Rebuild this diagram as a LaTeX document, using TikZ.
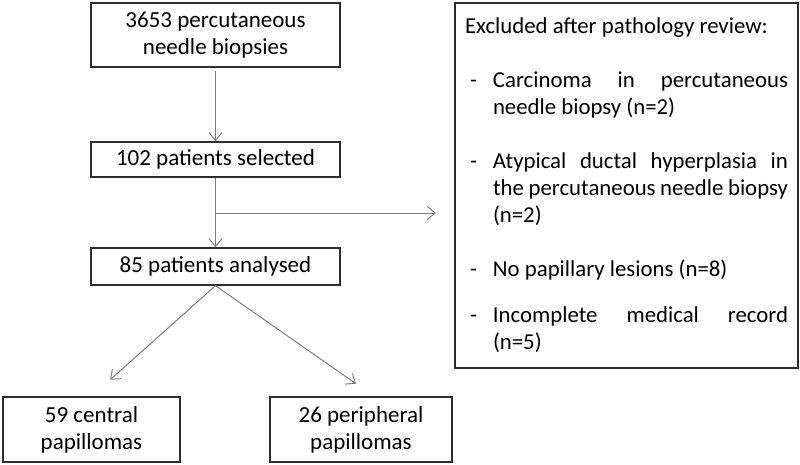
\documentclass[tikz,border=0pt]{standalone}
\usepackage{fontspec}
\setmainfont{Carlito}
\usetikzlibrary{arrows.meta, positioning, calc}
\definecolor{boxline}{RGB}{45,45,45}
\definecolor{arrowgray}{RGB}{125,125,125}
% one excluded reason: dash, then hanging text
\newcommand{\exclitem}[2][27pt]{\par\vspace{#1}\hangindent=28pt\hangafter=1\noindent\makebox[28pt][l]{\hspace{5pt}-}#2}

\begin{document}
\begin{tikzpicture}[x=1pt, y=-1pt,
    box/.style={draw=boxline, line width=1.3pt, align=center, inner sep=0pt,
        font=\fontsize{23}{27}\selectfont},
    flow/.style={draw=arrowgray, line width=1pt, -{Straight Barb[length=8pt,width=13pt]}}]
    \useasboundingbox (0,0) rectangle (800,464);

    % main column
    \node[box, minimum width=249pt, minimum height=64pt] (biopsies) at (215.5,35) {3653 percutaneous\\needle biopsies};
    \node[box, minimum width=249pt, minimum height=35pt] (selected) at (215.5,159.5) {102 patients selected};
    \node[box, minimum width=249pt, minimum height=37pt] (analysed) at (215.5,266.5) {85 patients analysed};

    % split
    \node[box, minimum width=177pt, minimum height=65pt] (central) at (91.5,429.5) {59 central\\papillomas};
    \node[box, minimum width=182pt, minimum height=65pt] (peripheral) at (361,429.5) {26 peripheral\\papillomas};

    % exclusions
    \node[box, align=justify, text width=323pt, minimum width=343pt, minimum height=365pt,
        font=\fontsize{22.8}{27}\selectfont] (excluded) at (626.5,185.5) {%
        \setlength{\parindent}{0pt}%
        Excluded after pathology review:
        \exclitem{Carcinoma in percutaneous\linebreak needle biopsy (n=2)}
        \exclitem{Atypical ductal hyperplasia in\linebreak the percutaneous needle biopsy\linebreak (n=2)}
        \exclitem{No papillary lesions (n=8)}
        \exclitem[19pt]{Incomplete medical record\linebreak (n=5)}\par};

    \coordinate (branch) at (215.5,213);
    \coordinate (exclin) at (436,213);

    % connectors
    \draw[flow, shorten <=3pt] (biopsies) -- (selected);
    \draw[flow] (selected) -- (analysed);
    \draw[flow] (branch) -- (exclin);
    \draw[flow, shorten >=25pt] (analysed.south) -- (central.north);
    \draw[flow, shorten >=22pt] (analysed.south) -- ([xshift=13pt]peripheral.north);
\end{tikzpicture}
\end{document}
